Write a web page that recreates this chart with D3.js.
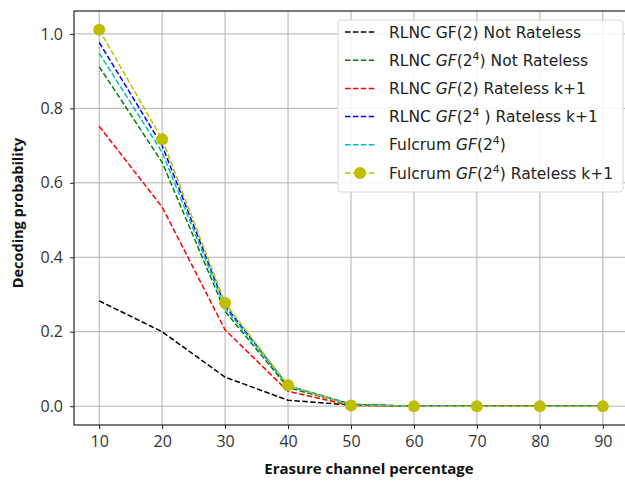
<!DOCTYPE html>
<html>
<head>
<meta charset="utf-8">
<script src="https://cdn.jsdelivr.net/npm/d3@7"></script>
<style>
  body { margin: 0; background: #fff; }
  svg { display: block; }
</style>
</head>
<body>
<div id="wrapper"></div>
<script>
// erasure percentages on the x axis
const erasure = [10, 20, 30, 40, 50, 60, 70, 80, 90];

// decoding probability per scheme
const rlncGF2 = [0.283, 0.200, 0.078, 0.016, 0.003, 0, 0, 0, 0];
const rlncGF16 = [0.912, 0.655, 0.255, 0.050, 0.004, 0, 0, 0, 0];
const rlncGF2Rateless = [0.752, 0.535, 0.205, 0.040, 0.002, 0, 0, 0, 0];
const rlncGF16Rateless = [0.977, 0.700, 0.270, 0.055, 0.005, 0, 0, 0, 0];
const fulcrumGF16 = [0.948, 0.682, 0.264, 0.055, 0.005, 0, 0, 0, 0];
const fulcrumGF16Rateless = [1.011, 0.717, 0.277, 0.056, 0.002, 0, 0, 0, 0];

const xTicks = [10, 20, 30, 40, 50, 60, 70, 80, 90];
const yTicks = [0, 0.2, 0.4, 0.6, 0.8, 1.0];

// label parts: [text, italic?, superscript?]
const series = [
    {values: rlncGF2, color: "#000000", marker: false,
     label: [["RLNC GF(2) Not Rateless", false, false]]},
    {values: rlncGF16, color: "#008000", marker: false,
     label: [["RLNC ", false, false], ["GF", true, false], ["(2", false, false], ["4", false, true], [") Not Rateless", false, false]]},
    {values: rlncGF2Rateless, color: "#ff0000", marker: false,
     label: [["RLNC ", false, false], ["GF", true, false], ["(2) Rateless k+1", false, false]]},
    {values: rlncGF16Rateless, color: "#0000ff", marker: false,
     label: [["RLNC ", false, false], ["GF", true, false], ["(2", false, false], ["4", false, true], [" ) Rateless k+1", false, false]]},
    {values: fulcrumGF16, color: "#00bfbf", marker: false,
     label: [["Fulcrum ", false, false], ["GF", true, false], ["(2", false, false], ["4", false, true], [")", false, false]]},
    {values: fulcrumGF16Rateless, color: "#bfbf00", marker: true,
     label: [["Fulcrum ", false, false], ["GF", true, false], ["(2", false, false], ["4", false, true], [") Rateless k+1", false, false]]}
];

const dimension = {
    width: 625,
    height: 485,
    margin: {top: 11, left: 74, bottom: 60, right: -3}
};
dimension.boundedWidth = dimension.width - dimension.margin.left - dimension.margin.right;
dimension.boundedHeight = dimension.height - dimension.margin.top - dimension.margin.bottom;

const svg = d3.select("#wrapper")
    .append("svg")
    .attr("width", dimension.width)
    .attr("height", dimension.height);

const bounded = svg.append("g")
    .attr("transform", `translate(${dimension.margin.left},${dimension.margin.top})`);

const xScaler = d3.scaleLinear()
    .domain([6, 94])
    .range([0, dimension.boundedWidth]);

const yScaler = d3.scaleLinear()
    .domain([-0.0505, 1.0615])
    .range([dimension.boundedHeight, 0]);

// grid
const grid = bounded.append("g");
grid.selectAll(".vg").data(xTicks).enter().append("line")
    .attr("x1", d => xScaler(d)).attr("x2", d => xScaler(d))
    .attr("y1", 0).attr("y2", dimension.boundedHeight)
    .attr("stroke", "#b0b0b0").attr("stroke-width", 1);
grid.selectAll(".hg").data(yTicks).enter().append("line")
    .attr("x1", 0).attr("x2", dimension.boundedWidth)
    .attr("y1", d => yScaler(d)).attr("y2", d => yScaler(d))
    .attr("stroke", "#b0b0b0").attr("stroke-width", 1);

// axes
const xAxisGen = d3.axisBottom(xScaler).tickValues(xTicks).tickSize(4).tickPadding(7);
const yAxisGen = d3.axisLeft(yScaler).tickValues(yTicks).tickSize(4).tickPadding(7)
    .tickFormat(d3.format(".1f"));

const xAxis = bounded.append("g")
    .attr("transform", `translate(0,${dimension.boundedHeight})`)
    .call(xAxisGen);
const yAxis = bounded.append("g").call(yAxisGen);

[xAxis, yAxis].forEach(a => {
    a.select(".domain").remove();
    a.selectAll(".tick line").attr("stroke", "#222");
    a.selectAll(".tick text")
        .attr("fill", "#333")
        .style("font-family", "'Open Sans', sans-serif")
        .style("font-size", "16px");
});

// lines
const lineGen = d3.line()
    .x((d, i) => xScaler(erasure[i]))
    .y(d => yScaler(d));

series.forEach(s => {
    bounded.append("path")
        .datum(s.values)
        .attr("d", lineGen)
        .attr("fill", "none")
        .attr("stroke", s.color)
        .attr("stroke-width", 1.5)
        .attr("stroke-dasharray", "5.5 2.4");
    if (s.marker) {
        bounded.selectAll(null)
            .data(s.values)
            .enter()
            .append("circle")
            .attr("cx", (d, i) => xScaler(erasure[i]))
            .attr("cy", d => yScaler(d))
            .attr("r", 6)
            .attr("fill", s.color);
    }
});

// frame
bounded.append("rect")
    .attr("width", dimension.boundedWidth)
    .attr("height", dimension.boundedHeight)
    .attr("fill", "none")
    .attr("stroke", "#222")
    .attr("stroke-width", 1.2);

// legend
const legend = svg.append("g").attr("transform", "translate(338,20)");
legend.append("rect")
    .attr("width", 285).attr("height", 172)
    .attr("rx", 3)
    .attr("fill", "#fff").attr("fill-opacity", 0.85)
    .attr("stroke", "#d8d8d8");

series.forEach((s, i) => {
    const y = 12 + i * 28.2;
    const row = legend.append("g").attr("transform", `translate(0,${y})`);
    row.append("line")
        .attr("x1", 7).attr("x2", 37)
        .attr("stroke", s.color)
        .attr("stroke-width", 1.5)
        .attr("stroke-dasharray", "5.5 2.4");
    if (s.marker) {
        row.append("circle").attr("cx", 22).attr("r", 6).attr("fill", s.color);
    }
    const txt = row.append("text")
        .attr("x", 51).attr("y", 5.5)
        .attr("fill", "#222")
        .style("font-family", "'DejaVu Sans', sans-serif")
        .style("font-size", "15.5px");
    s.label.forEach(p => {
        const ts = txt.append("tspan").text(p[0]);
        if (p[1]) ts.style("font-style", "italic");
        if (p[2]) ts.attr("dy", -6).style("font-size", "11px");
        else if (txt.attr("data-up") === "1") ts.attr("dy", 6);
        txt.attr("data-up", p[2] ? "1" : "0");
    });
});

// axis titles
svg.append("text")
    .attr("x", 369).attr("y", 474)
    .attr("text-anchor", "middle")
    .attr("fill", "#111")
    .style("font-family", "'Open Sans', sans-serif")
    .style("font-weight", "bold")
    .style("font-size", "15px")
    .text("Erasure channel percentage");

svg.append("text")
    .attr("transform", "translate(23,213) rotate(-90)")
    .attr("text-anchor", "middle")
    .attr("fill", "#111")
    .style("font-family", "'Open Sans', sans-serif")
    .style("font-weight", "bold")
    .style("font-size", "14.5px")
    .text("Decoding probability");
</script>
</body>
</html>
